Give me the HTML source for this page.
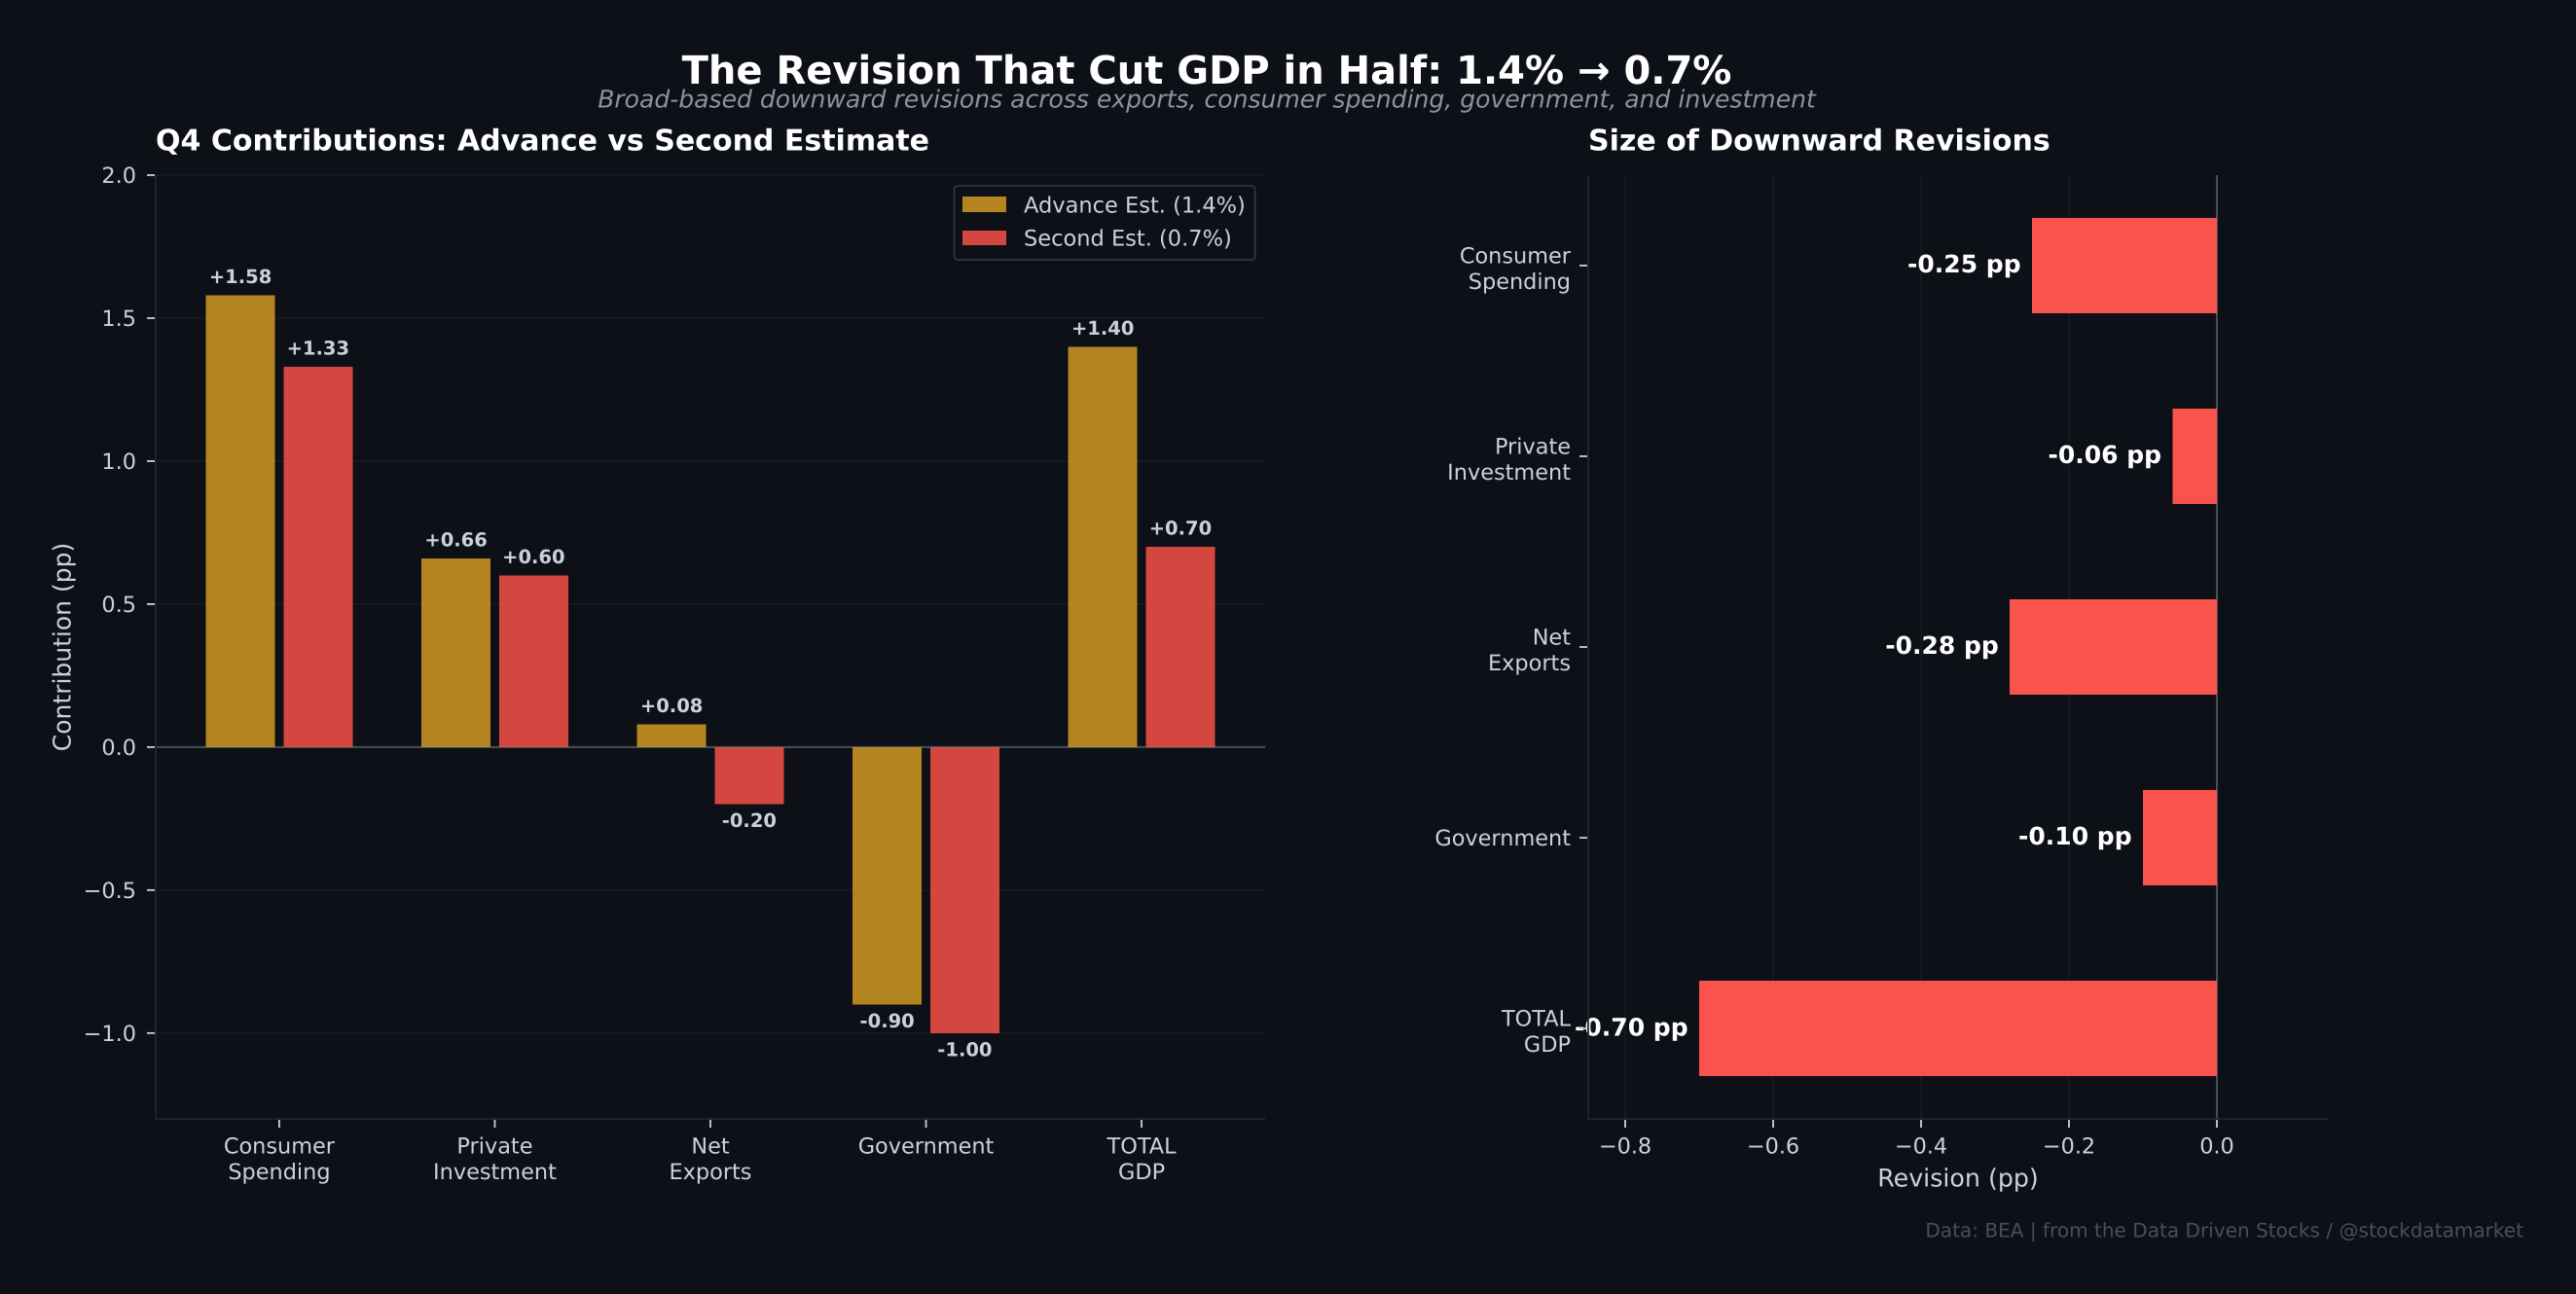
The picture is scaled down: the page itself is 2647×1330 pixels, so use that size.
<!DOCTYPE html>
<html lang="en">
<head>
<meta charset="utf-8">
<title>The Revision That Cut GDP in Half</title>
<style>
html,body{margin:0;padding:0;background:#0d1117;}
body{width:2647px;height:1330px;overflow:hidden;}
svg{display:block;font-family:"DejaVu Sans","Liberation Sans",sans-serif;text-rendering:geometricPrecision;}
</style>
</head>
<body>
<svg id="figure" xmlns="http://www.w3.org/2000/svg" width="2647" height="1330" viewBox="0 0 2647 1330">
  <rect x="0" y="0" width="2647" height="1330" fill="#0d1117"/>
  <text x="1240" y="86" text-anchor="middle" font-size="40" font-weight="700" fill="#ffffff">The Revision That Cut GDP in Half: 1.4% → 0.7%</text>
  <text x="1240" y="110.7" text-anchor="middle" font-size="25.05" font-style="italic" fill="#8b949e">Broad-based downward revisions across exports, consumer spending, government, and investment</text>
  <text x="160" y="154.5" font-size="30" font-weight="700" fill="#ffffff">Q4 Contributions: Advance vs Second Estimate</text>
  <text x="1632" y="154.5" font-size="30" font-weight="700" fill="#ffffff">Size of Downward Revisions</text>
  <text transform="translate(72.5 665) rotate(-90)" text-anchor="middle" font-size="25" fill="#c9d1d9">Contribution (pp)</text>
  <text x="2012" y="1219.5" text-anchor="middle" font-size="25.3" fill="#c9d1d9">Revision (pp)</text>
  <text x="2593" y="1271.7" text-anchor="end" font-size="20.06" fill="#484f58">Data: BEA | from the Data Driven Stocks / @stockdatamarket</text>
  <g id="left-chart"></g>
  <g id="right-chart"></g>
  <g id="legend">
    <rect x="980.5" y="191" width="309" height="76" rx="3.5" fill="#0d1117" stroke="#30363d" stroke-width="1.8"/>
    <rect x="989" y="202" width="45" height="16" fill="#d29922" fill-opacity="0.85" shape-rendering="crispEdges"/>
    <text x="1052" y="218.5" font-size="22.5" fill="#c9d1d9">Advance Est. (1.4%)</text>
    <rect x="989" y="237" width="45" height="15" fill="#f85149" fill-opacity="0.85" shape-rendering="crispEdges"/>
    <text x="1052" y="252.5" font-size="22.5" fill="#c9d1d9">Second Est. (0.7%)</text>
  </g>
</svg>
<script>
const categories = ["Consumer\nSpending", "Private\nInvestment", "Net\nExports", "Government", "TOTAL\nGDP"];
const advanceValues = [1.58, 0.66, 0.08, -0.90, 1.40];
const secondValues = [1.33, 0.60, -0.20, -1.00, 0.70];
const revisionValues = [-0.25, -0.06, -0.28, -0.10, -0.70];
const contributionTicks = [2.0, 1.5, 1.0, 0.5, 0.0, -0.5, -1.0];
const revisionTicks = [-0.8, -0.6, -0.4, -0.2, 0.0];

const NS = "http://www.w3.org/2000/svg";
const TEXT_COLOR = "#c9d1d9";
const GRID_COLOR = "#181c23";
const SPINE_COLOR = "#21262d";
const ZERO_COLOR = "#484f58";

const L = {left: 160, right: 1300, top: 180, bottom: 1150};
const R = {left: 1632, right: 2392, top: 180, bottom: 1150};

function scale(d0, d1, r0, r1) {
  return function (v) { return r0 + (v - d0) * (r1 - r0) / (d1 - d0); };
}
const xL = scale(-0.573, 4.573, L.left, L.right);
const yL = scale(2.0, -1.3, L.top, L.bottom);
const xR = scale(-0.85, 0.15, R.left, R.right);
const yR = scale(-0.474, 4.474, R.top, R.bottom);
const BAR_WIDTH = 0.32, BAR_OFFSET = 0.18, HBAR_HEIGHT = 0.5;

function make(tag, attrs, parent, text) {
  const node = document.createElementNS(NS, tag);
  for (const k in attrs) node.setAttribute(k, attrs[k]);
  if (text !== undefined) node.textContent = text;
  parent.appendChild(node);
  return node;
}
function minusFix(s) { return s.replace("-", "\u2212"); }

const left = document.getElementById("left-chart");
const right = document.getElementById("right-chart");

/* ---------- left chart: gridlines, ticks, labels ---------- */
contributionTicks.forEach(function (t) {
  const y = yL(t);
  const grid = make("line", {x1: L.left, x2: L.right, y1: y, y2: y, stroke: GRID_COLOR, "stroke-width": 1.4}, left);
  
  
  const tick = make("line", {x1: L.left - 9, x2: L.left - 1, y1: y, y2: y, stroke: TEXT_COLOR, "stroke-width": 1.8}, left);
  
  
  const label = make("text", {x: 140, y: y + 8.2, "text-anchor": "end", "font-size": 22.4, fill: TEXT_COLOR}, left, minusFix(t.toFixed(1)));
  
  
});

const zeroLeft = make("line", {x1: L.left, x2: L.right, y1: yL(0), y2: yL(0), stroke: ZERO_COLOR, "stroke-width": 2}, left);



function drawVerticalBar(i, value, offset, color, name) {
  const unit = xL(1) - xL(0);
  const cx = xL(i) + offset * unit;
  const w = BAR_WIDTH * unit;
  const y0 = yL(0), y1 = yL(value);
  const bar = make("rect", {x: cx - w / 2, y: Math.min(y0, y1), width: w, height: Math.abs(y1 - y0), fill: color, "fill-opacity": 0.85, "shape-rendering": "crispEdges"}, left);
  
  
  const txt = (value >= 0 ? "+" : "") + value.toFixed(2);
  const ly = value >= 0 ? y1 - 12.5 : y1 + 23.5;
  const label = make("text", {x: cx, y: ly, "text-anchor": "middle", "font-size": 19.5, "font-weight": 700, fill: TEXT_COLOR}, left, txt);
  
  
}

categories.forEach(function (c, i) {
  drawVerticalBar(i, advanceValues[i], -BAR_OFFSET, "#d29922", "bar-advance");
  drawVerticalBar(i, secondValues[i], BAR_OFFSET, "#f85149", "bar-second");
  const x = xL(i);
  const tick = make("line", {x1: x, x2: x, y1: L.bottom + 1, y2: L.bottom + 9, stroke: TEXT_COLOR, "stroke-width": 1.8}, left);
  
  
  c.split("\n").forEach(function (line, j) {
    const label = make("text", {x: x, y: 1185.5 + j * 26.4, "text-anchor": "middle", "font-size": 22.4, fill: TEXT_COLOR}, left, line);
    
    
  });
});

const leftSpineY = make("line", {x1: L.left, x2: L.left, y1: L.top, y2: L.bottom + 1, stroke: SPINE_COLOR, "stroke-width": 1.8}, left);


const leftSpineX = make("line", {x1: L.left - 1, x2: L.right, y1: L.bottom, y2: L.bottom, stroke: SPINE_COLOR, "stroke-width": 1.8}, left);



/* ---------- right chart ---------- */
revisionTicks.forEach(function (t) {
  const x = xR(t);
  const grid = make("line", {x1: x, x2: x, y1: R.top, y2: R.bottom, stroke: GRID_COLOR, "stroke-width": 1.4}, right);
  
  
  const tick = make("line", {x1: x, x2: x, y1: R.bottom + 1, y2: R.bottom + 9, stroke: TEXT_COLOR, "stroke-width": 1.8}, right);
  
  
  const label = make("text", {x: x, y: 1185.5, "text-anchor": "middle", "font-size": 22.4, fill: TEXT_COLOR}, right, minusFix(t.toFixed(1)));
  
  
});

const zeroRight = make("line", {x1: xR(0), x2: xR(0), y1: R.top, y2: R.bottom, stroke: ZERO_COLOR, "stroke-width": 2}, right);



categories.forEach(function (c, i) {
  const y = yR(i);
  const v = revisionValues[i];
  const h = HBAR_HEIGHT * (yR(1) - yR(0));
  const bar = make("rect", {x: xR(v), y: y - h / 2, width: xR(0) - xR(v), height: h, fill: "#fa534b", "shape-rendering": "crispEdges"}, right);
  
  
  const value = make("text", {x: xR(v - 0.015), y: y + 7.2, "text-anchor": "end", "font-size": 25, "font-weight": 700, fill: "#ffffff"}, right, v.toFixed(2) + " pp");
  
  
  const tick = make("line", {x1: R.left - 9, x2: R.left - 1, y1: y, y2: y, stroke: TEXT_COLOR, "stroke-width": 1.8}, right);
  
  
  const lines = c.split("\n");
  lines.forEach(function (line, j) {
    const base = lines.length === 2 ? y - 2.5 + j * 26.4 : y + 8;
    const label = make("text", {x: 1614, y: base, "text-anchor": "end", "font-size": 22.4, fill: TEXT_COLOR}, right, line);
    
    
  });
});

const rightSpineY = make("line", {x1: R.left, x2: R.left, y1: R.top, y2: R.bottom + 1, stroke: SPINE_COLOR, "stroke-width": 1.8}, right);


const rightSpineX = make("line", {x1: R.left - 1, x2: R.right, y1: R.bottom, y2: R.bottom, stroke: SPINE_COLOR, "stroke-width": 1.8}, right);


</script>
</body>
</html>
